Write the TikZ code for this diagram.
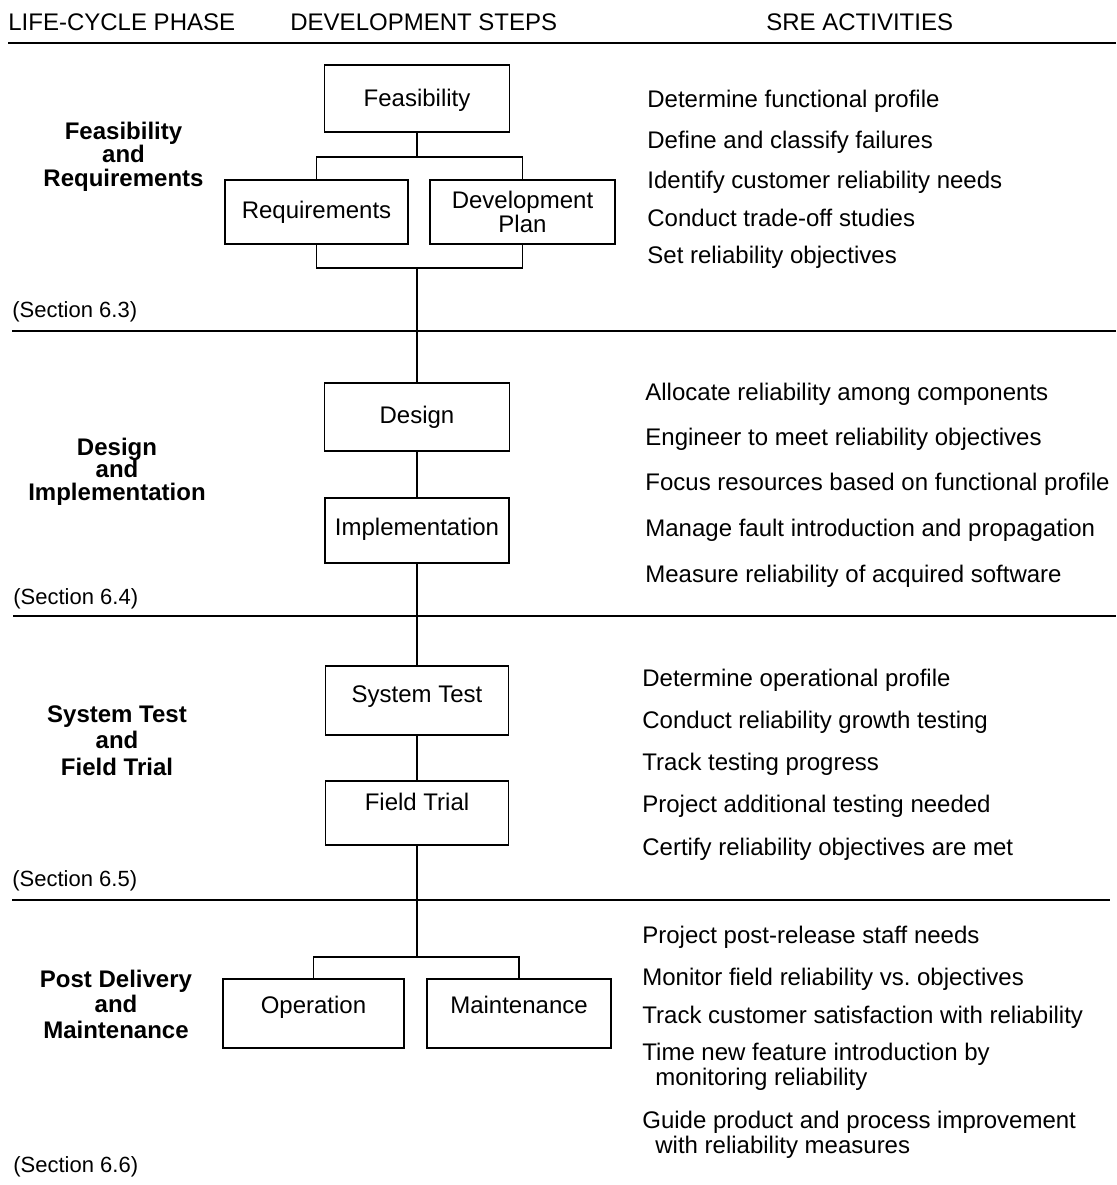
\documentclass[tikz,border=0pt]{standalone}
\usepackage{fontspec}
\setmainfont{Liberation Sans}
\begin{document}
\begin{tikzpicture}[x=0.5pt,y=-0.5pt,
  stepbox/.style={draw, line width=0.8pt, inner sep=0pt, font=\fontsize{12}{14}\selectfont},
  conn/.style={line width=0.75pt},
  sepline/.style={line width=0.9pt},
  headline/.style={line width=1.3pt},
  act/.style={anchor=base west, inner sep=0pt, font=\fontsize{12}{14}\selectfont},
  phase/.style={anchor=base, inner sep=0pt, font=\fontsize{12}{14}\selectfont\bfseries},
  sect/.style={anchor=base west, inner sep=0pt, font=\fontsize{11}{13}\selectfont},
  head/.style={anchor=base west, inner sep=0pt, font=\fontsize{12}{14}\selectfont}]
\useasboundingbox (0,0) rectangle (1116,1185);

% headers
\node[head] (h1) at (8,30) {LIFE-CYCLE PHASE};
\node[head] (h2) at (290,30) {DEVELOPMENT STEPS};
\node[head] (h3) at (766,30) {SRE ACTIVITIES};
\draw[headline] (8,43) -- (1116,43);

% separators
\draw[sepline] (12,331) -- (1116,331);
\draw[sepline] (13,616) -- (1116,616);
\draw[sepline] (12,900) -- (1110,900);

% phase labels
\node[phase] (p1a) at (123.5,139) {Feasibility};
\node[phase] (p1b) at (123.5,162) {and};
\node[phase] (p1c) at (123.5,186) {Requirements};
\node[sect] (s1) at (12,317) {(Section 6.3)};

\node[phase] (p2a) at (117,455) {Design};
\node[phase] (p2b) at (117,477) {and};
\node[phase] (p2c) at (117,500) {Implementation};
\node[sect] (s2) at (13,604) {(Section 6.4)};

\node[phase] (p3a) at (117,722) {System Test};
\node[phase] (p3b) at (117,748) {and};
\node[phase] (p3c) at (117,775) {Field Trial};
\node[sect] (s3) at (12,886) {(Section 6.5)};

\node[phase] (p4a) at (116,987) {Post Delivery};
\node[phase] (p4b) at (116,1012) {and};
\node[phase] (p4c) at (116,1038) {Maintenance};
\node[sect] (s4) at (13,1172) {(Section 6.6)};

% development steps
\node[stepbox, minimum width=92.5pt, text height=20.5pt, text depth=13pt] (feas) at (417,98.5) {Feasibility};
\node[stepbox, minimum width=91.5pt, text height=19pt, text depth=13pt] (req) at (316.5,212) {Requirements};
\node[stepbox, minimum width=92.5pt, minimum height=32pt, align=center, font=\fontsize{12}{10.5}\selectfont] (dp) at (522.5,212) {Development\\Plan};
\node[stepbox, minimum width=92.5pt, text height=20pt, text depth=14pt] (design) at (417,417) {Design};
\node[stepbox, minimum width=92pt, text height=18.5pt, text depth=14pt] (impl) at (417,530.5) {Implementation};
\node[stepbox, minimum width=91.5pt, text height=18pt, text depth=16.5pt] (systest) at (417,700.5) {System Test};
\node[stepbox, minimum width=91.5pt, text height=14.5pt, text depth=17.5pt] (ft) at (417,813) {Field Trial};
\node[stepbox, minimum width=90.5pt, text height=17pt, text depth=17.5pt] (op) at (313.5,1013.5) {Operation};
\node[stepbox, minimum width=92pt, text height=17pt, text depth=17.5pt] (maint) at (519,1013.5) {Maintenance};

% connectors
\coordinate (j1) at (417,157);
\coordinate (j2) at (417,268);
\coordinate (j3) at (417,957);
\draw[conn] (feas.south) -- (j1);
\draw[conn] (req.north) |- (j1) -| (dp.north);
\draw[conn] (req.south) |- (j2) -| (dp.south);
\draw[conn] (j2) -- (design.north);
\draw[conn] (design.south) -- (impl.north);
\draw[conn] (impl.south) -- (systest.north);
\draw[conn] (systest.south) -- (ft.north);
\draw[conn] (ft.south) -- (j3);
\draw[conn] (op.north) |- (j3) -| (maint.north);

% SRE activities
\node[act] (a11) at (647,107) {Determine functional profile};
\node[act] (a12) at (647,148) {Define and classify failures};
\node[act] (a13) at (647,188) {Identify customer reliability needs};
\node[act] (a14) at (647,226) {Conduct trade-off studies};
\node[act] (a15) at (647,263) {Set reliability objectives};

\node[act] (a21) at (645,400) {Allocate reliability among components};
\node[act] (a22) at (645,445) {Engineer to meet reliability objectives};
\node[act] (a23) at (645,490) {Focus resources based on functional profile};
\node[act] (a24) at (645,536) {Manage fault introduction and propagation};
\node[act] (a25) at (645,582) {Measure reliability of acquired software};

\node[act] (a31) at (642,686) {Determine operational profile};
\node[act] (a32) at (642,728) {Conduct reliability growth testing};
\node[act] (a33) at (642,770) {Track testing progress};
\node[act] (a34) at (642,812) {Project additional testing needed};
\node[act] (a35) at (642,855) {Certify reliability objectives are met};

\node[act] (a41) at (642,943) {Project post-release staff needs};
\node[act] (a42) at (642,985) {Monitor field reliability vs.\ objectives};
\node[act] (a43) at (642,1023) {Track customer satisfaction with reliability};
\node[act] (a44a) at (642,1060) {Time new feature introduction by};
\node[act] (a44b) at (655,1085) {monitoring reliability};
\node[act] (a45a) at (642,1128) {Guide product and process improvement};
\node[act] (a45b) at (655,1153) {with reliability measures};
\end{tikzpicture}
\end{document}
